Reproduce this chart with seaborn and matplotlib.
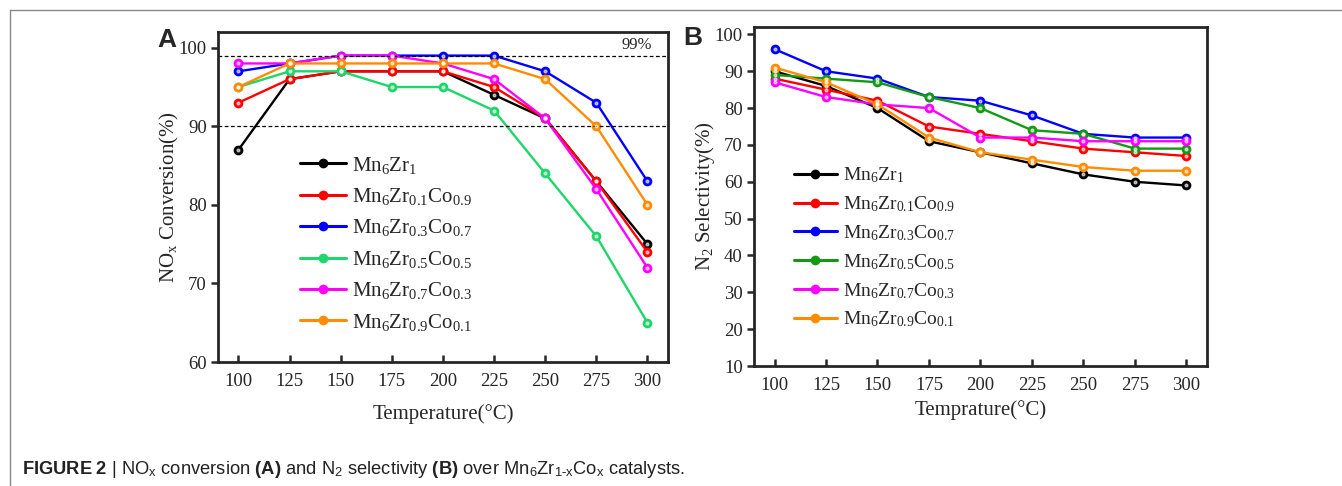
import numpy as np
import pandas as pd
import seaborn as sns
import matplotlib.pyplot as plt
from matplotlib.lines import Line2D

# --- data ---
temps = [100, 125, 150, 175, 200, 225, 250, 275, 300]
labels = [r'Mn$_{6}$Zr$_{1}$',
          r'Mn$_{6}$Zr$_{0.1}$Co$_{0.9}$',
          r'Mn$_{6}$Zr$_{0.3}$Co$_{0.7}$',
          r'Mn$_{6}$Zr$_{0.5}$Co$_{0.5}$',
          r'Mn$_{6}$Zr$_{0.7}$Co$_{0.3}$',
          r'Mn$_{6}$Zr$_{0.9}$Co$_{0.1}$']

# panel A: NOx conversion (%)
nox_zr1 = [87, 96, 97, 97, 97, 94, 91, 83, 75]
nox_co09 = [93, 96, 97, 97, 97, 95, 91, 83, 74]
nox_co07 = [97, 98, 99, 99, 99, 99, 97, 93, 83]
nox_co05 = [95, 97, 97, 95, 95, 92, 84, 76, 65]
nox_co03 = [98, 98, 99, 99, 98, 96, 91, 82, 72]
nox_co01 = [95, 98, 98, 98, 98, 98, 96, 90, 80]

# panel B: N2 selectivity (%)
sel_zr1 = [90, 86, 80, 71, 68, 65, 62, 60, 59]
sel_co09 = [88, 85, 82, 75, 73, 71, 69, 68, 67]
sel_co07 = [96, 90, 88, 83, 82, 78, 73, 72, 72]
sel_co05 = [89, 88, 87, 83, 80, 74, 73, 69, 69]
sel_co03 = [87, 83, 81, 80, 72, 72, 71, 71, 71]
sel_co01 = [91, 87, 81, 72, 68, 66, 64, 63, 63]

colors_a = ['#000000', '#ff0000', '#0000ff', '#1ed66a', '#ff00ff', '#ff8c00']
colors_b = ['#000000', '#ff0000', '#0000ff', '#129a12', '#ff00ff', '#ff8c00']

nox = [nox_zr1, nox_co09, nox_co07, nox_co05, nox_co03, nox_co01]
sel = [sel_zr1, sel_co09, sel_co07, sel_co05, sel_co03, sel_co01]


def long_df(series):
    rows = []
    for lab, vals in zip(labels, series):
        for t, v in zip(temps, vals):
            rows.append({'T': t, 'val': v, 'sample': lab})
    return pd.DataFrame(rows)


df_a = long_df(nox)
df_b = long_df(sel)

# --- style ---
sns.set_style('ticks')
plt.rcParams['font.family'] = ['Liberation Serif', 'DejaVu Serif']
plt.rcParams['mathtext.fontset'] = 'custom'
plt.rcParams['mathtext.rm'] = 'Liberation Serif'
plt.rcParams['mathtext.it'] = 'Liberation Serif:italic'
plt.rcParams['mathtext.bf'] = 'Liberation Sans:bold'
plt.rcParams['mathtext.sf'] = 'Liberation Sans'
plt.rcParams['axes.linewidth'] = 2.0

fig = plt.figure(figsize=(13.42, 4.86), dpi=100)
ax_a = fig.add_axes([0.1624, 0.2551, 0.3353, 0.679])
ax_b = fig.add_axes([0.5618, 0.2469, 0.3376, 0.6975])


def draw(ax, df, cols):
    sns.lineplot(data=df, x='T', y='val', hue='sample', palette=cols,
                 marker='o', markersize=7, markeredgewidth=0, linewidth=1.7,
                 ax=ax, legend=False, sort=False)
    # small white highlight on the markers
    for lab, c in zip(labels, cols):
        sub = df[df['sample'] == lab]
        ax.plot(sub['T'], sub['val'], linestyle='none', marker='o',
                markersize=2.0, color='white', alpha=0.6, zorder=5)
    handles = [Line2D([0], [0], color=c, linewidth=2.2, marker='o',
                      markersize=7, markeredgewidth=0) for c in cols]
    return handles


h_a = draw(ax_a, df_a, colors_a)
h_b = draw(ax_b, df_b, colors_b)

for ax in (ax_a, ax_b):
    ax.set_xlim(90, 310)
    ax.set_xticks(temps)
    ax.tick_params(axis='x', direction='in', length=5, width=1.8,
                   labelsize=13.5, pad=8)
    ax.tick_params(axis='y', direction='out', length=5, width=1.8,
                   labelsize=13.5, pad=3)
    for s in ax.spines.values():
        s.set_linewidth(2.0)
        s.set_visible(True)

# panel A
ax_a.set_ylim(60, 102)
ax_a.set_yticks([60, 70, 80, 90, 100])
ax_a.axhline(99, color='black', linestyle=(0, (3, 2)), linewidth=0.9)
ax_a.axhline(90, color='black', linestyle=(0, (3, 2)), linewidth=0.9)
ax_a.text(0.93, 0.985, '99%', transform=ax_a.transAxes, ha='center',
          va='top', fontsize=12)
ax_a.set_xlabel('Temperature(°C)', fontsize=15, labelpad=10)
ax_a.set_ylabel(r'NO$_\mathrm{x}$ Conversion(%)', fontsize=15, labelpad=-2)
ax_a.legend(h_a, labels, loc='upper left', bbox_to_anchor=(0.16, 0.66),
            frameon=False, fontsize=15, handlelength=2.2,
            handletextpad=0.3, labelspacing=0.5, borderpad=0)

# panel B
ax_b.set_ylim(10, 102)
ax_b.set_yticks(list(range(10, 101, 10)))
ax_b.set_xlabel('Temprature(°C)', fontsize=15, labelpad=4)
ax_b.set_ylabel(r'N$_2$ Selectivity(%)', fontsize=15, labelpad=-2)
ax_b.legend(h_b, labels, loc='upper left', bbox_to_anchor=(0.067, 0.62),
            frameon=False, fontsize=14, handlelength=2.2,
            handletextpad=0.3, labelspacing=0.47, borderpad=0)

# panel letters
fig.text(157 / 1342, 1 - 40 / 486, 'A', fontsize=19, fontweight='bold',
         family='Liberation Sans', va='center')
fig.text(683 / 1342, 1 - 38 / 486, 'B', fontsize=19, fontweight='bold',
         family='Liberation Sans', va='center')

# page frame lines
fig.add_artist(Line2D([10 / 1342, 1], [1 - 10 / 486, 1 - 10 / 486],
                      transform=fig.transFigure, color='#888888', linewidth=1))
fig.add_artist(Line2D([10 / 1342, 10 / 1342], [0, 1 - 10 / 486],
                      transform=fig.transFigure, color='#888888', linewidth=1))

# caption
fig.text(22 / 1342, 1 - 469 / 486,
         r'$\mathbf{FIGURE\ 2}$ | NO$_\mathsf{x}$ conversion $\mathbf{(A)}$ and '
         r'N$_\mathsf{2}$ selectivity $\mathbf{(B)}$ over '
         r'Mn$_\mathsf{6}$Zr$_\mathsf{1\text{-}x}$Co$_\mathsf{x}$ catalysts.',
         fontsize=13.2, family='Liberation Sans', va='center', color='#222222')

fig.savefig('out.png', dpi=100)
